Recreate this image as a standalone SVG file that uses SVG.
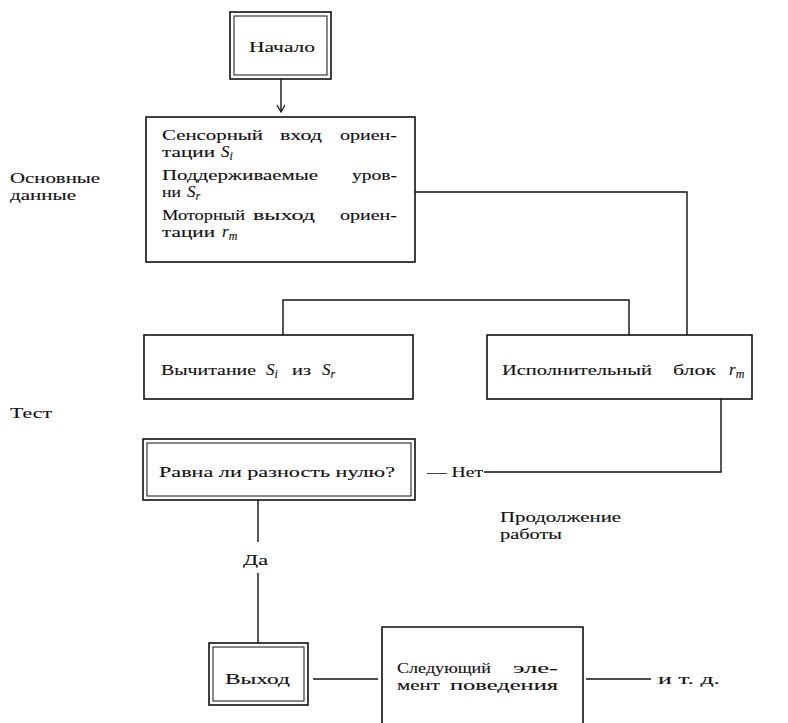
<svg xmlns="http://www.w3.org/2000/svg" width="788" height="723" viewBox="0 0 788 723">
<style>
text { font-family: "Liberation Serif", "Times New Roman", serif; font-size: 15px; fill: #111; stroke: #111; stroke-width: 0.12; }
.box { fill: #fff; stroke: #111; stroke-width: 1.6; }
.inner { fill: none; stroke: #111; stroke-width: 1; }
.conn { fill: none; stroke: #111; stroke-width: 1.4; }
.it { font-style: italic; font-size: 17px; }
.sub { font-size: 12px; font-style: italic; }
</style>
<defs>
<marker id="arr" markerWidth="10" markerHeight="10" refX="8" refY="5" orient="auto" markerUnits="userSpaceOnUse">
<path d="M1,1 L8,5 L1,9" fill="none" stroke="#111" stroke-width="1.2"/>
</marker>
</defs>
<rect width="788" height="723" fill="#fff" stroke="none"/>

<g id="connectors">
<line class="conn" x1="281" y1="79" x2="281" y2="112" marker-end="url(#arr)"/>
<polyline class="conn" points="415,192 687,192 687,335"/>
<polyline class="conn" points="283,335 283,300 629,300 629,335"/>
<polyline class="conn" points="721,399 721,472 484,472"/>
<line class="conn" x1="258" y1="500" x2="258" y2="542"/>
<line class="conn" x1="258" y1="573" x2="258" y2="643"/>
<line class="conn" x1="313" y1="679" x2="378" y2="679"/>
<line class="conn" x1="586" y1="679" x2="651" y2="679"/>
</g>

<g id="labels">
<text x="10" y="183" textLength="90" lengthAdjust="spacingAndGlyphs">Основные</text>
<text x="10" y="200" textLength="66" lengthAdjust="spacingAndGlyphs">данные</text>
<text x="10" y="418" textLength="42" lengthAdjust="spacingAndGlyphs">Тест</text>
<text x="427" y="477" textLength="56" lengthAdjust="spacingAndGlyphs">— Нет</text>
<text x="500" y="522" textLength="121" lengthAdjust="spacingAndGlyphs">Продолжение</text>
<text x="500" y="539" textLength="62" lengthAdjust="spacingAndGlyphs">работы</text>
<text x="243" y="565" textLength="25" lengthAdjust="spacingAndGlyphs">Да</text>
<text x="658" y="684" textLength="62" lengthAdjust="spacingAndGlyphs">и т. д.</text>
</g>

<g id="start">
<rect class="box" x="230" y="12" width="101" height="67"/>
<rect class="inner" x="234" y="16" width="93" height="59"/>
<text x="249" y="52" textLength="66" lengthAdjust="spacingAndGlyphs">Начало</text>
</g>

<g id="data">
<rect class="box" x="146" y="117" width="269" height="145"/>
<text x="162" y="140" textLength="101" lengthAdjust="spacingAndGlyphs">Сенсорный</text>
<text x="280" y="140" textLength="42" lengthAdjust="spacingAndGlyphs">вход</text>
<text x="340" y="140" textLength="57" lengthAdjust="spacingAndGlyphs">ориен-</text>
<text x="162" y="157" textLength="53" lengthAdjust="spacingAndGlyphs">тации</text>
<text x="221" y="157"><tspan class="it">S</tspan><tspan class="sub" dy="3">i</tspan></text>
<text x="162" y="180" textLength="156" lengthAdjust="spacingAndGlyphs">Поддерживаемые</text>
<text x="352" y="180" textLength="45" lengthAdjust="spacingAndGlyphs">уров-</text>
<text x="162" y="197" textLength="19" lengthAdjust="spacingAndGlyphs">ни</text>
<text x="187" y="197"><tspan class="it">S</tspan><tspan class="sub" dy="3">r</tspan></text>
<text x="162" y="220" textLength="83" lengthAdjust="spacingAndGlyphs">Моторный</text>
<text x="253" y="220" textLength="62" lengthAdjust="spacingAndGlyphs">выход</text>
<text x="340" y="220" textLength="57" lengthAdjust="spacingAndGlyphs">ориен-</text>
<text x="162" y="237" textLength="53" lengthAdjust="spacingAndGlyphs">тации</text>
<text x="222" y="237"><tspan class="it">r</tspan><tspan class="sub" dy="3">m</tspan></text>
</g>

<g id="subtract">
<rect class="box" x="144" y="335" width="269" height="64"/>
<text x="161" y="375" textLength="95" lengthAdjust="spacingAndGlyphs">Вычитание</text>
<text x="266" y="375"><tspan class="it">S</tspan><tspan class="sub" dy="3">i</tspan></text>
<text x="292" y="375" textLength="19" lengthAdjust="spacingAndGlyphs">из</text>
<text x="322" y="375"><tspan class="it">S</tspan><tspan class="sub" dy="3">r</tspan></text>
</g>

<g id="executive">
<rect class="box" x="487" y="335" width="265" height="64"/>
<text x="502" y="375" textLength="150" lengthAdjust="spacingAndGlyphs">Исполнительный</text>
<text x="673" y="375" textLength="43" lengthAdjust="spacingAndGlyphs">блок</text>
<text x="729" y="375"><tspan class="it">r</tspan><tspan class="sub" dy="3">m</tspan></text>
</g>

<g id="test">
<rect class="box" x="143" y="439" width="272" height="61"/>
<rect class="inner" x="147" y="443" width="264" height="53"/>
<text x="159" y="477" textLength="236" lengthAdjust="spacingAndGlyphs">Равна ли разность нулю?</text>
</g>

<g id="exit">
<rect class="box" x="209" y="643" width="99" height="62"/>
<rect class="inner" x="213" y="647" width="91" height="54"/>
<text x="225" y="684" textLength="65" lengthAdjust="spacingAndGlyphs">Выход</text>
</g>

<g id="next">
<polyline class="conn" style="stroke-width:1.6" points="382,723 382,627 583,627 583,723"/>
<text x="397" y="673" textLength="94" lengthAdjust="spacingAndGlyphs">Следующий</text>
<text x="513" y="673" textLength="45" lengthAdjust="spacingAndGlyphs">эле-</text>
<text x="397" y="690" textLength="43" lengthAdjust="spacingAndGlyphs">мент</text>
<text x="450" y="690" textLength="108" lengthAdjust="spacingAndGlyphs">поведения</text>
</g>
</svg>
